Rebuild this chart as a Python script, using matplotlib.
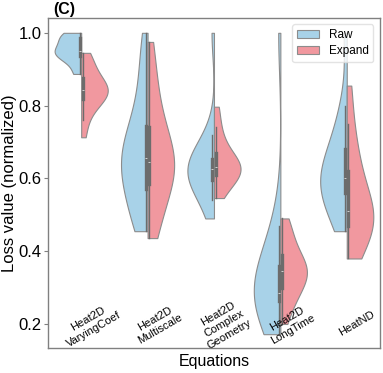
import numpy as np
import pandas as pd
import matplotlib
matplotlib.use("Agg")
import matplotlib.pyplot as plt
import seaborn as sns

categories = ["Heat2D\nVaryingCoef", "Heat2D\nMultiscale", "Heat2D\nComplex\nGeometry",
              "Heat2D\nLongTime", "HeatND"]
hues = ["Raw", "Expand"]

raw_vals = [
    [1.0, 1.0, 0.995, 0.99, 0.985, 0.975, 0.965, 0.955, 0.95, 0.948, 0.945, 0.94, 0.935, 0.93, 0.92, 0.89, 0.887],
    [1.0, 0.93, 0.87, 0.8, 0.76, 0.73, 0.7, 0.68, 0.66, 0.655, 0.65, 0.63, 0.6, 0.58, 0.56, 0.53, 0.5, 0.46, 0.455],
    [1.0, 0.72, 0.68, 0.66, 0.645, 0.635, 0.63, 0.625, 0.62, 0.61, 0.6, 0.59, 0.57, 0.54, 0.49],
    [1.0, 0.47, 0.43, 0.39, 0.35, 0.32, 0.3, 0.29, 0.28, 0.275, 0.27, 0.265, 0.26, 0.25, 0.235, 0.172],
    [1.0, 0.8, 0.74, 0.7, 0.66, 0.64, 0.62, 0.6, 0.59, 0.58, 0.57, 0.55, 0.52, 0.49, 0.455],
]
exp_vals = [
    [0.945, 0.93, 0.91, 0.89, 0.87, 0.86, 0.85, 0.845, 0.84, 0.835, 0.83, 0.82, 0.81, 0.79, 0.76, 0.713],
    [0.975, 0.9, 0.84, 0.79, 0.75, 0.72, 0.69, 0.67, 0.65, 0.64, 0.63, 0.62, 0.6, 0.58, 0.55, 0.51, 0.47, 0.436],
    [0.797, 0.74, 0.7, 0.67, 0.65, 0.64, 0.63, 0.625, 0.62, 0.61, 0.6, 0.58, 0.546],
    [0.49, 0.46, 0.43, 0.4, 0.38, 0.36, 0.35, 0.345, 0.34, 0.33, 0.31, 0.29, 0.27, 0.25, 0.2],
    [0.855, 0.75, 0.68, 0.64, 0.6, 0.56, 0.53, 0.51, 0.5, 0.49, 0.48, 0.46, 0.44, 0.41, 0.38],
]

rows = []
for c, rv, ev in zip(categories, raw_vals, exp_vals):
    for v in rv:
        rows.append((c, "Raw", v))
    for v in ev:
        rows.append((c, "Expand", v))
df = pd.DataFrame(rows, columns=["Equation", "Type", "Loss"])

plt.rcParams['font.family'] = ['Liberation Sans', 'DejaVu Sans']
fig = plt.figure(figsize=(3.83, 3.73), dpi=100)
ax = fig.add_axes([0.1253, 0.067, 0.8667, 0.885])

palette = {"Raw": "#A8D2E8", "Expand": "#F1989F"}
sns.violinplot(data=df, x="Equation", y="Loss", hue="Type", split=True, cut=0,
               inner="box", density_norm="width", palette=palette, saturation=1,
               linewidth=0.8, linecolor="#8c8c8c", ax=ax, order=categories,
               hue_order=hues,
               inner_kws=dict(box_width=2.4, whis_width=1.0, color="#6c6c6c"))

ax.set_ylim(0.134, 1.041)
ax.set_xlim(-0.5, 4.5)
ax.set_yticks([0.2, 0.4, 0.6, 0.8, 1.0])
ax.set_yticklabels(["0.2", "0.4", "0.6", "0.8", "1.0"], fontsize=12)
ax.set_xticks([])
ax.set_xlabel("Equations", fontsize=11.5, labelpad=4)
ax.set_ylabel("Loss value (normalized)", fontsize=12)
ax.yaxis.set_label_coords(-0.093, 0.5)
for i, c in enumerate(categories):
    ax.text(i + 0.15, 0.2, c, rotation=30, ha="center", va="center", fontsize=8)
for s in ax.spines.values():
    s.set_color("#808080")
    s.set_linewidth(1.0)
ax.tick_params(axis="y", color="#808080", length=3, pad=1.5)
ax.text(0.015, 1.012, "(C)", transform=ax.transAxes, fontweight="bold",
        fontsize=11.5, ha="left", va="baseline")
leg = ax.legend(loc="upper right", fontsize=8.5, frameon=True, handlelength=1.9,
                borderaxespad=0.55, labelspacing=0.35)
leg.get_frame().set_edgecolor("#dddddd")

fig.savefig("out.png", dpi=100)
